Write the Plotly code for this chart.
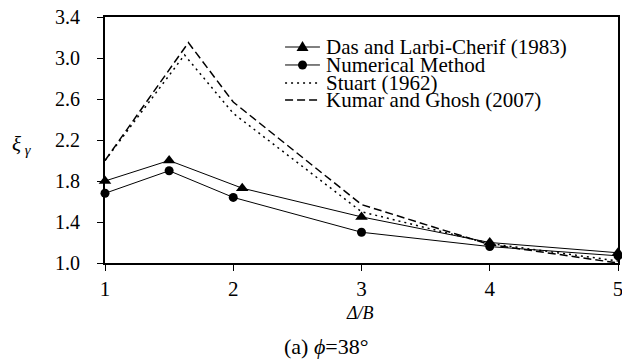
import plotly.graph_objects as go

das_x = [1, 1.5, 2.07, 3, 4, 5]
das_y = [1.80, 2.00, 1.73, 1.45, 1.20, 1.10]

num_x = [1, 1.5, 2, 3, 4, 5]
num_y = [1.68, 1.90, 1.64, 1.30, 1.16, 1.07]

stuart_x = [1, 1.62, 2, 3, 4, 5]
stuart_y = [2.00, 3.03, 2.46, 1.50, 1.19, 1.02]

kumar_x = [1, 1.65, 2, 3, 4, 5]
kumar_y = [2.00, 3.15, 2.57, 1.57, 1.18, 1.00]

series_names = ["Das and Larbi-Cherif (1983)", "Numerical Method", "Stuart (1962)", "Kumar and Ghosh (2007)"]

x_ticks = [1, 2, 3, 4, 5]
y_ticks = [1.0, 1.4, 1.8, 2.2, 2.6, 3.0, 3.4]

FONT = "Liberation Serif, Times New Roman, serif"
DOT = "2px,4px"
DASH = "8px,4px"

fig = go.Figure()
fig.add_trace(go.Scatter(x=das_x, y=das_y, mode="lines+markers", name=series_names[0],
                         line=dict(color="black", width=1),
                         marker=dict(symbol="triangle-up", size=11, color="black"), cliponaxis=False))
fig.add_trace(go.Scatter(x=num_x, y=num_y, mode="lines+markers", name=series_names[1],
                         line=dict(color="black", width=1),
                         marker=dict(symbol="circle", size=9, color="black"), cliponaxis=False))
fig.add_trace(go.Scatter(x=stuart_x, y=stuart_y, mode="lines", name=series_names[2],
                         line=dict(color="black", width=1.5, dash=DOT), cliponaxis=False))
fig.add_trace(go.Scatter(x=kumar_x, y=kumar_y, mode="lines", name=series_names[3],
                         line=dict(color="black", width=1.5, dash=DASH), cliponaxis=False))

fig.update_layout(
    width=622, height=360,
    margin=dict(l=105, r=4, t=17, b=97, autoexpand=False),
    paper_bgcolor="white", plot_bgcolor="white",
    font=dict(family=FONT, size=16, color="black"),
    showlegend=False,
)
fig.update_xaxes(range=[1, 5], tickvals=x_ticks, ticktext=[str(v) for v in x_ticks],
                 showgrid=False, zeroline=False, showline=True, linecolor="black", linewidth=2,
                 mirror=True, ticks="outside", ticklen=6, tickcolor="black", tickwidth=1,
                 tickfont=dict(family=FONT, size=21), ticklabeloverflow="allow", automargin=False)
fig.update_yaxes(range=[1.0, 3.4], tickvals=y_ticks, ticktext=[f"{v:.1f}" for v in y_ticks],
                 showgrid=False, zeroline=False, showline=True, linecolor="black", linewidth=2,
                 mirror=True, ticks="outside", ticklen=6, tickcolor="black", tickwidth=1,
                 tickfont=dict(family=FONT, size=20), ticklabelstandoff=13,
                 ticklabeloverflow="allow", automargin=False)

# manual legend (compact rows like the reference)
leg_rows_y = [0.878, 0.805, 0.732, 0.663]
lx0, lx1, lxm, ltx = 0.351, 0.419, 0.385, 0.427
leg_dash = ["solid", "solid", DOT, DASH]
leg_w = [1, 1, 1.5, 1.5]
for name, ry, d, w in zip(series_names, leg_rows_y, leg_dash, leg_w):
    fig.add_shape(type="line", xref="paper", yref="paper", x0=lx0, x1=lx1, y0=ry, y1=ry,
                  line=dict(color="black", width=w, dash=d))
    fig.add_annotation(text=name, xref="paper", yref="paper", x=ltx, y=ry,
                       xanchor="left", yanchor="middle", showarrow=False,
                       font=dict(family=FONT, size=21))
fig.add_shape(type="path", xref="paper", yref="paper", xsizemode="pixel", ysizemode="pixel",
              xanchor=lxm, yanchor=leg_rows_y[0], path="M-6,-4 L6,-4 L0,6 Z",
              fillcolor="black", line=dict(color="black", width=0))
fig.add_shape(type="circle", xref="paper", yref="paper", xsizemode="pixel", ysizemode="pixel",
              xanchor=lxm, yanchor=leg_rows_y[1], x0=-4.5, x1=4.5, y0=-4.5, y1=4.5,
              fillcolor="black", line=dict(color="black", width=0))

fig.add_annotation(text="<i>ξ</i><sub> <i>γ</i></sub>", xref="paper", yref="paper",
                   x=-0.162, y=0.48, xanchor="center", yanchor="middle", showarrow=False,
                   font=dict(family=FONT, size=21))
fig.add_annotation(text="<i>Δ/B</i>", xref="paper", yref="paper",
                   x=0.497, y=-0.203, xanchor="center", yanchor="middle", showarrow=False,
                   font=dict(family=FONT, size=18))
fig.add_annotation(text="(a) <i>ϕ</i>=38°", xref="paper", yref="paper",
                   x=0.431, y=-0.341, xanchor="center", yanchor="middle", showarrow=False,
                   font=dict(family=FONT, size=22))

fig.write_html("out.html", config={"displayModeBar": False},
               post_script="document.body.style.margin='0';document.body.style.overflow='hidden';")
